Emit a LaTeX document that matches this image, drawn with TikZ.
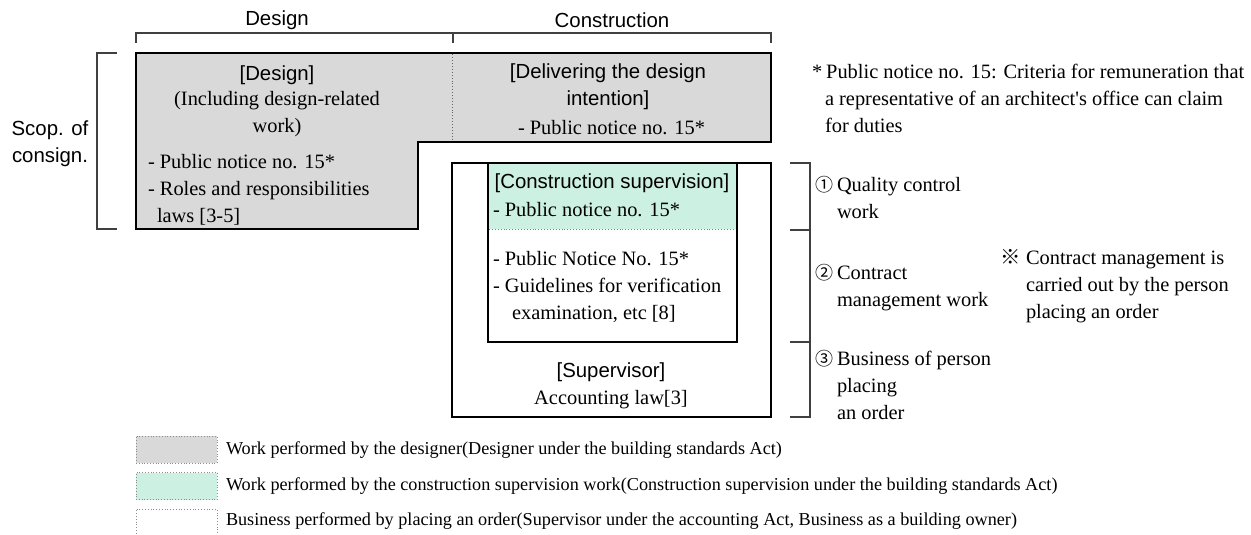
\documentclass[tikz,border=0pt]{standalone}
\usepackage{fontspec}
\setmainfont{Liberation Serif}
\setsansfont{Liberation Sans}
\newfontfamily\symf{Noto Sans CJK JP}
\newfontfamily\rawserif{Liberation Serif}[Ligatures=ResetAll]
\definecolor{dgray}{HTML}{D9D9D9}
\definecolor{mint}{HTML}{CCF0E1}
\definecolor{brkgray}{HTML}{404040}
\newcommand{\circnum}[1]{\makebox[22pt][l]{\symf\fontsize{18}{18}\selectfont #1}}
\tikzset{
  thickbox/.style={draw=black, line width=2.8pt, line join=miter},
  brk/.style={draw=brkgray, line width=1.1pt},
  dotline/.style={draw=black!60, line width=0.9pt, dotted},
  sf/.style={inner sep=0pt, outer sep=0pt, font=\sffamily\fontsize{20.4}{27}\selectfont},
  rm/.style={inner sep=0pt, outer sep=0pt, font=\rmfamily\fontsize{20.4}{27}\selectfont},
  leg/.style={inner sep=0pt, outer sep=0pt, anchor=west, font=\rmfamily\fontsize{18.2}{22}\selectfont},
  swatch/.style={draw=black!45, dotted, line width=0.8pt, minimum width=81pt, minimum height=27pt, inner sep=0pt}
}
\begin{document}
\begin{tikzpicture}[x=1pt,y=-1pt]
\useasboundingbox (0,0) rectangle (1251,535);
\fill[white] (0,0) rectangle (1251,535);

% top bracket
\coordinate (tb1) at (136,43); \coordinate (tb2) at (136,33);
\coordinate (tb3) at (771,33); \coordinate (tb4) at (771,43);
\coordinate (tm1) at (453,33); \coordinate (tm2) at (453,43);
\draw[brk] (tb1) -- (tb2) -- (tb3) -- (tb4);
\draw[brk] (tm1) -- (tm2);
\node[sf] (hdes) at (277,20) {Design};
\node[sf] (hcon) at (612,20) {Construction};

% design / delivering shape
\filldraw[thickbox, fill=dgray] (136,53) -- (771,53) -- (771,142) -- (418,142) -- (418,229) -- (136,229) -- cycle;
\draw[dotline] (452,54.5) -- (452,140.5);

% supervisor outer box
\draw[thickbox, fill=white] (452,163) rectangle (771,417);
% construction supervision inner box
\fill[mint] (488,163) rectangle (737,229);
\draw[draw=black!50, dotted, line width=0.9pt] (489,229) -- (736,229);
\draw[thickbox, line width=2.4pt] (488,163) rectangle (737,342);

% left bracket
\draw[brk] (117,53) -- (97,53) -- (97,229) -- (117,229);
\node[sf, align=center] (scop) at (50,144) {Scop. of\\consign.};

% right bracket
\draw[brk] (790,163) -- (810,163) -- (810,417) -- (790,417);
\draw[brk] (790,230) -- (810,230);
\draw[brk] (790,342) -- (810,342);

% design box texts
\node[sf] (dT) at (277,75) {[Design]};
\node[rm, align=center] (dS) at (277,114) {(Including design-related\\work)};
\node[rm, align=left, anchor=west] (dL) at (148,190) {- Public notice no. 15*\\- Roles and responsibilities\\\hspace*{9pt}laws [3-5]};

% delivering texts
\node[sf, align=center] (vT) at (608,86.5) {[Delivering the design\\intention]};
\node[rm, anchor=west] (vL) at (518,128) {- Public notice no. 15*};

% construction supervision texts
\node[sf] (cT) at (612,183) {[Construction supervision]};
\node[rm, anchor=west] (cL) at (493,210) {- Public notice no. 15*};
\node[rm, align=left, anchor=west] (cL2) at (493,287) {- Public Notice No. 15*\\- Guidelines for verification\\\hspace*{19pt}examination, etc [8]};

% supervisor
\node[sf] (sT) at (611,372) {[Supervisor]};
\node[rm] (sL) at (611,400) {Accounting law[3]};

% right texts
\node[rm, align=left, anchor=west] (r1) at (815,197.5) {\circnum{①}Quality control\\\hspace*{22pt}work};
\node[rm, align=left, anchor=west] (r2) at (815,287.5) {\circnum{②}Contract\\\hspace*{22pt}management work};
\node[rm, align=left, anchor=west] (r3) at (815,385) {\circnum{③}Business of person\\\hspace*{22pt}placing\\\hspace*{22pt}an order};
\node[rm, align=left, anchor=west] (r4) at (1000,286.5) {\makebox[26pt][l]{\symf ※}Contract management is\\\hspace*{26pt}carried out by the person\\\hspace*{26pt}placing an order};

% footnote
\node[rm, align=left, anchor=west] (fn) at (812,98.5) {*\hspace{4pt}Public notice no. 15: Criteria for remuneration that\\\hspace*{13pt}a representative of an architect{\rawserif '}s office can claim\\\hspace*{13pt}for duties};

% legend
\node[swatch, fill=dgray] (sw1) at (176.5,449.5) {};
\node[swatch, fill=mint] (sw2) at (176.5,486) {};
\node[swatch, fill=white] (sw3) at (176.5,522.5) {};
\node[leg] (l1) at (226,450) {Work performed by the designer(Designer under the building standards Act)};
\node[leg] (l2) at (226,486) {Work performed by the construction supervision work(Construction supervision under the building standards Act)};
\node[leg] (l3) at (226,521) {Business performed by placing an order(Supervisor under the accounting Act, Business as a building owner)};
\end{tikzpicture}
\end{document}
